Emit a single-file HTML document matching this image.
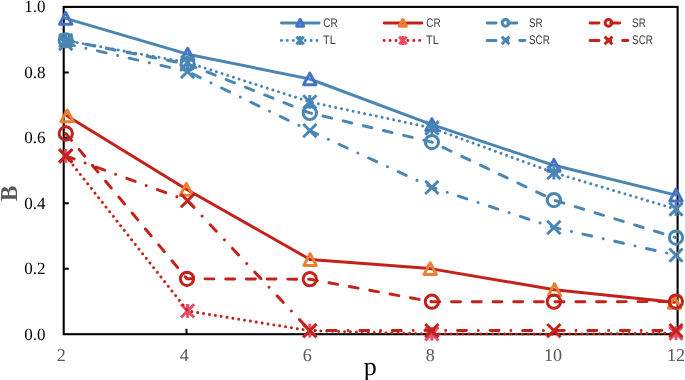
<!DOCTYPE html>
<html lang="en">
<head>
<meta charset="utf-8">
<title>B versus p</title>
<style>
html,body{margin:0;padding:0;background:#fff;}
body{width:685px;height:380px;overflow:hidden;}
svg{display:block;will-change:transform;}
</style>
</head>
<body>
<svg width="685" height="380" viewBox="0 0 685 380" text-rendering="geometricPrecision">
<rect width="685" height="380" fill="#fff"/>
<rect x="63.7" y="6.9" width="613.9" height="327.3" fill="none" stroke="#000" stroke-width="2.1"/>
<path d="M63.7 268.7 h5.1 M63.7 203.3 h5.1 M63.7 137.8 h5.1 M63.7 72.4 h5.1 M186.5 334.2 v-5.4 M309.3 334.2 v-5.4 M432.0 334.2 v-5.4 M554.8 334.2 v-5.4" stroke="#000" stroke-width="2" fill="none"/>
<g>
<path d="M65.7 18.4 L187.6 54.2 L309.8 79.0 L431.9 124.7 L553.9 165.3 L676.0 195.1" fill="none" stroke="#4a86b4" stroke-width="2.96" stroke-linecap="round" stroke-linejoin="round"/>
<path d="M65.7 12.5 L71.9 24.2 L59.5 24.2 Z" fill="none" stroke="#4472c4" stroke-width="2.96" stroke-linejoin="round"/>
<path d="M187.6 48.3 L193.8 60.1 L181.4 60.1 Z" fill="none" stroke="#4472c4" stroke-width="2.96" stroke-linejoin="round"/>
<path d="M309.8 73.1 L316.0 84.8 L303.6 84.8 Z" fill="none" stroke="#4472c4" stroke-width="2.96" stroke-linejoin="round"/>
<path d="M431.9 118.8 L438.1 130.6 L425.7 130.6 Z" fill="none" stroke="#4472c4" stroke-width="2.96" stroke-linejoin="round"/>
<path d="M553.9 159.4 L560.1 171.2 L547.7 171.2 Z" fill="none" stroke="#4472c4" stroke-width="2.96" stroke-linejoin="round"/>
<path d="M676.0 189.2 L682.2 200.9 L669.8 200.9 Z" fill="none" stroke="#4472c4" stroke-width="2.96" stroke-linejoin="round"/>
</g>
<g>
<path d="M65.7 40.5 L187.6 62.5 L309.8 101.9 L431.9 128.0 L553.9 172.7 L676.0 209.2" fill="none" stroke="#4a86b4" stroke-width="2.96" stroke-linecap="round" stroke-linejoin="round" stroke-dasharray="0.01 5.92"/>
<path d="M59.1 33.9 L72.3 47.1 M59.1 47.1 L72.3 33.9 M65.7 33.6 L65.7 47.4" fill="none" stroke="#4a86b4" stroke-width="2.96"/>
<path d="M181.0 55.9 L194.2 69.1 M181.0 69.1 L194.2 55.9 M187.6 55.6 L187.6 69.3" fill="none" stroke="#4a86b4" stroke-width="2.96"/>
<path d="M303.2 95.3 L316.4 108.5 M303.2 108.5 L316.4 95.3 M309.8 95.1 L309.8 108.8" fill="none" stroke="#4a86b4" stroke-width="2.96"/>
<path d="M425.3 121.4 L438.5 134.6 M425.3 134.6 L438.5 121.4 M431.9 121.2 L431.9 134.8" fill="none" stroke="#4a86b4" stroke-width="2.96"/>
<path d="M547.3 166.1 L560.5 179.3 M547.3 179.3 L560.5 166.1 M553.9 165.8 L553.9 179.5" fill="none" stroke="#4a86b4" stroke-width="2.96"/>
<path d="M669.4 202.6 L682.6 215.8 M669.4 215.8 L682.6 202.6 M676.0 202.3 L676.0 216.0" fill="none" stroke="#4a86b4" stroke-width="2.96"/>
</g>
<g>
<path d="M65.7 40.3 L187.6 64.2 L309.8 112.9 L431.9 142.1 L553.9 200.1 L676.0 237.6" fill="none" stroke="#4a86b4" stroke-width="2.96" stroke-linecap="round" stroke-linejoin="round" stroke-dasharray="8.88 11.84"/>
<circle cx="65.7" cy="40.3" r="6.65" fill="none" stroke="#4a86b4" stroke-width="2.96"/>
<circle cx="187.6" cy="64.2" r="6.65" fill="none" stroke="#4a86b4" stroke-width="2.96"/>
<circle cx="309.8" cy="112.9" r="6.65" fill="none" stroke="#4a86b4" stroke-width="2.96"/>
<circle cx="431.9" cy="142.1" r="6.65" fill="none" stroke="#4a86b4" stroke-width="2.96"/>
<circle cx="553.9" cy="200.1" r="6.65" fill="none" stroke="#4a86b4" stroke-width="2.96"/>
<circle cx="676.0" cy="237.6" r="6.65" fill="none" stroke="#4a86b4" stroke-width="2.96"/>
</g>
<g>
<path d="M65.7 43.6 L187.6 71.5 L309.8 130.7 L431.9 187.3 L553.9 227.5 L676.0 255.2" fill="none" stroke="#4a86b4" stroke-width="2.96" stroke-linecap="round" stroke-linejoin="round" stroke-dasharray="8.88 11.84 0.01 11.84"/>
<path d="M59.1 37.0 L72.4 50.2 M59.1 50.2 L72.4 37.0" fill="none" stroke="#4a86b4" stroke-width="2.96"/>
<path d="M180.9 64.8 L194.2 78.2 M180.9 78.2 L194.2 64.8" fill="none" stroke="#4a86b4" stroke-width="2.96"/>
<path d="M303.2 124.0 L316.4 137.3 M303.2 137.3 L316.4 124.0" fill="none" stroke="#4a86b4" stroke-width="2.96"/>
<path d="M425.2 180.7 L438.5 194.0 M425.2 194.0 L438.5 180.7" fill="none" stroke="#4a86b4" stroke-width="2.96"/>
<path d="M547.2 220.8 L560.5 234.2 M547.2 234.2 L560.5 220.8" fill="none" stroke="#4a86b4" stroke-width="2.96"/>
<path d="M669.4 248.5 L682.6 261.8 M669.4 261.8 L682.6 248.5" fill="none" stroke="#4a86b4" stroke-width="2.96"/>
</g>
<g>
<path d="M67.2 115.9 L186.4 189.3 L310.1 259.5 L430.2 268.6 L554.5 289.7 L674.5 302.3" fill="none" stroke="#c3211a" stroke-width="2.96" stroke-linecap="round" stroke-linejoin="round"/>
<path d="M67.2 110.0 L73.4 121.8 L61.0 121.8 Z" fill="none" stroke="#ed7d31" stroke-width="2.96" stroke-linejoin="round"/>
<path d="M186.4 183.4 L192.6 195.2 L180.2 195.2 Z" fill="none" stroke="#ed7d31" stroke-width="2.96" stroke-linejoin="round"/>
<path d="M310.1 253.6 L316.3 265.4 L303.9 265.4 Z" fill="none" stroke="#ed7d31" stroke-width="2.96" stroke-linejoin="round"/>
<path d="M430.2 262.7 L436.4 274.5 L424.0 274.5 Z" fill="none" stroke="#ed7d31" stroke-width="2.96" stroke-linejoin="round"/>
<path d="M554.5 283.8 L560.7 295.6 L548.3 295.6 Z" fill="none" stroke="#ed7d31" stroke-width="2.96" stroke-linejoin="round"/>
<path d="M674.5 296.4 L680.7 308.2 L668.3 308.2 Z" fill="none" stroke="#ed7d31" stroke-width="2.96" stroke-linejoin="round"/>
</g>
<g>
<path d="M59.1 149.2 L72.3 162.4 M59.1 162.4 L72.3 149.2 M65.7 149.0 L65.7 162.7" fill="none" stroke="#e84c65" stroke-width="2.96"/>
<path d="M181.0 304.3 L194.2 317.5 M181.0 317.5 L194.2 304.3 M187.6 304.0 L187.6 317.8" fill="none" stroke="#e84c65" stroke-width="2.96"/>
<path d="M303.2 324.1 L316.4 337.3 M303.2 337.3 L316.4 324.1 M309.8 323.8 L309.8 337.6" fill="none" stroke="#e84c65" stroke-width="2.96"/>
<path d="M425.3 327.3 L438.5 340.5 M425.3 340.5 L438.5 327.3 M431.9 327.0 L431.9 340.8" fill="none" stroke="#e84c65" stroke-width="2.96"/>
<path d="M669.4 326.6 L682.6 339.8 M669.4 339.8 L682.6 326.6 M676.0 326.3 L676.0 340.1" fill="none" stroke="#e84c65" stroke-width="2.96"/>
<path d="M65.7 155.8 L187.6 310.9 L309.8 330.7 L431.9 333.9 L553.9 334.2 L676.0 333.2" fill="none" stroke="#c3211a" stroke-width="2.96" stroke-linecap="round" stroke-linejoin="round" stroke-dasharray="0.01 5.92"/>
</g>
<g>
<path d="M65.8 133.5 L187.0 278.8 L309.8 279.2 L431.9 301.7 L553.9 301.7 L675.9 301.6" fill="none" stroke="#c3211a" stroke-width="2.96" stroke-linecap="round" stroke-linejoin="round" stroke-dasharray="8.88 11.84"/>
<circle cx="65.8" cy="133.5" r="6.65" fill="none" stroke="#c3211a" stroke-width="2.96"/>
<circle cx="187.0" cy="278.8" r="6.65" fill="none" stroke="#c3211a" stroke-width="2.96"/>
<circle cx="309.8" cy="279.2" r="6.65" fill="none" stroke="#c3211a" stroke-width="2.96"/>
<circle cx="431.9" cy="301.7" r="6.65" fill="none" stroke="#c3211a" stroke-width="2.96"/>
<circle cx="553.9" cy="301.7" r="6.65" fill="none" stroke="#c3211a" stroke-width="2.96"/>
<circle cx="675.9" cy="301.6" r="6.65" fill="none" stroke="#c3211a" stroke-width="2.96"/>
</g>
<g>
<path d="M65.7 155.9 L187.6 200.7 L309.8 330.6 L431.9 330.6 L553.9 330.6 L676.0 330.6" fill="none" stroke="#c3211a" stroke-width="2.96" stroke-linecap="round" stroke-linejoin="round" stroke-dasharray="8.88 11.84 0.01 11.84"/>
<path d="M59.1 149.2 L72.4 162.6 M59.1 162.6 L72.4 149.2" fill="none" stroke="#c3211a" stroke-width="2.96"/>
<path d="M180.9 194.0 L194.2 207.3 M180.9 207.3 L194.2 194.0" fill="none" stroke="#c3211a" stroke-width="2.96"/>
<path d="M303.2 324.0 L316.4 337.2 M303.2 337.2 L316.4 324.0" fill="none" stroke="#c3211a" stroke-width="2.96"/>
<path d="M425.2 324.0 L438.5 337.2 M425.2 337.2 L438.5 324.0" fill="none" stroke="#c3211a" stroke-width="2.96"/>
<path d="M547.2 324.0 L560.5 337.2 M547.2 337.2 L560.5 324.0" fill="none" stroke="#c3211a" stroke-width="2.96"/>
<path d="M669.4 324.0 L682.6 337.2 M669.4 337.2 L682.6 324.0" fill="none" stroke="#c3211a" stroke-width="2.96"/>
</g>
<g font-family="'Liberation Serif', 'Times New Roman', serif" font-size="17" fill="#000" text-anchor="end">
<text x="45.6" y="339.8">0.0</text>
<text x="45.6" y="274.3">0.2</text>
<text x="45.6" y="208.8">0.4</text>
<text x="45.6" y="143.4">0.6</text>
<text x="45.6" y="77.9">0.8</text>
<text x="45.6" y="12.1">1.0</text>
</g>
<g font-family="'Liberation Serif', 'Times New Roman', serif" font-size="18.1" fill="#595959" text-anchor="middle">
<text x="61.3" y="361.4">2</text>
<text x="184.2" y="361.4">4</text>
<text x="307.2" y="361.4">6</text>
<text x="430.2" y="361.4">8</text>
<text x="553.1" y="361.4">10</text>
<text x="676.0" y="361.4">12</text>
</g>
<text x="370.2" y="374.9" text-anchor="middle" font-family="'Liberation Serif', 'Times New Roman', serif" font-size="26" fill="#000">p</text>
<text transform="translate(17.1 193.3) rotate(-90) scale(0.97 1)" text-anchor="middle" font-family="'Liberation Serif', 'Times New Roman', serif" font-size="24.4" font-weight="bold" fill="#595959" text-rendering="geometricPrecision">B</text>
<g font-family="'Liberation Sans', Arial, sans-serif" font-size="12.4" fill="#404040">
<path d="M281.43 22.9 H319.17" fill="none" stroke="#4a86b4" stroke-width="2.96" stroke-linecap="round"/>
<path d="M300.1 19.5 L303.7 26.1 L296.6 26.1 Z" fill="none" stroke="#4472c4" stroke-width="3.05" stroke-linejoin="round"/>
<text transform="translate(323.24 26.8) scale(0.812 1)">CR</text>
<path d="M281.43 40.5 H319.17" fill="none" stroke="#4a86b4" stroke-width="2.96" stroke-linecap="round" stroke-dasharray="0.01 5.92"/>
<path d="M296.3 36.7 l7.6 7.6 m0 -7.6 l-7.6 7.6 m3.8 -8.2 v8.8" fill="none" stroke="#4a86b4" stroke-width="2.96"/>
<text transform="translate(323.03 44.0) scale(0.880 1)">TL</text>
<path d="M384.13 22.9 H421.87" fill="none" stroke="#c3211a" stroke-width="2.96" stroke-linecap="round"/>
<path d="M402.9 19.5 L406.4 26.1 L399.3 26.1 Z" fill="none" stroke="#ed7d31" stroke-width="3.05" stroke-linejoin="round"/>
<text transform="translate(426.29 26.8) scale(0.812 1)">CR</text>
<path d="M384.13 40.5 H421.87" fill="none" stroke="#c3211a" stroke-width="2.96" stroke-linecap="round" stroke-dasharray="0.01 5.92"/>
<path d="M399.1 36.7 l7.6 7.6 m0 -7.6 l-7.6 7.6 m3.8 -8.2 v8.8" fill="none" stroke="#e84c65" stroke-width="2.96"/>
<text transform="translate(426.08 44.0) scale(0.880 1)">TL</text>
<path d="M487.18 22.9 H524.92" fill="none" stroke="#4a86b4" stroke-width="2.96" stroke-linecap="round" stroke-dasharray="8.88 11.84"/>
<circle cx="505.55" cy="22.85" r="3.4" fill="none" stroke="#4a86b4" stroke-width="2.96"/>
<text transform="translate(529.00 26.8) scale(0.794 1)">SR</text>
<path d="M487.18 40.5 H524.92" fill="none" stroke="#4a86b4" stroke-width="2.96" stroke-linecap="round" stroke-dasharray="8.88 11.84 0.01 11.84"/>
<path d="M501.70 36.60 l7.7 7.7 m0 -7.7 l-7.7 7.7" fill="none" stroke="#4a86b4" stroke-width="2.96"/>
<text transform="translate(529.00 44.0) scale(0.796 1)">SCR</text>
<path d="M590.08 22.9 H627.82" fill="none" stroke="#c3211a" stroke-width="2.96" stroke-linecap="round" stroke-dasharray="8.88 11.84"/>
<circle cx="608.50" cy="22.85" r="3.4" fill="none" stroke="#c3211a" stroke-width="2.96"/>
<text transform="translate(632.10 26.8) scale(0.794 1)">SR</text>
<path d="M590.08 40.5 H627.82" fill="none" stroke="#c3211a" stroke-width="2.96" stroke-linecap="round" stroke-dasharray="8.88 11.84 0.01 11.84"/>
<path d="M604.65 36.60 l7.7 7.7 m0 -7.7 l-7.7 7.7" fill="none" stroke="#c3211a" stroke-width="2.96"/>
<text transform="translate(632.10 44.0) scale(0.796 1)">SCR</text>
</g>
</svg>
</body>
</html>
